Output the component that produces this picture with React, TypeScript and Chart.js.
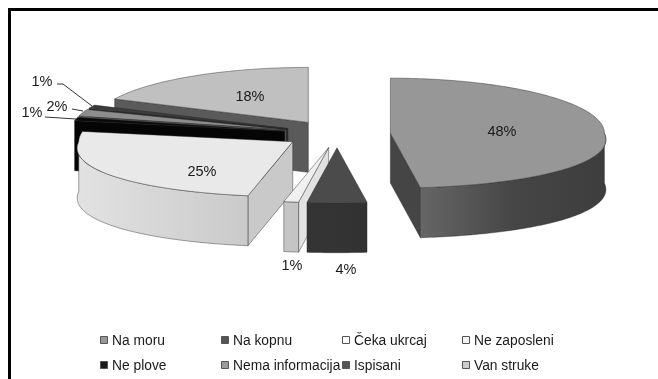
import React, { useEffect, useRef } from "react";
import { Chart, registerables } from "chart.js";

Chart.register(...registerables);

// Share of each status, in percent.
const categories = ["Na moru", "Na kopnu", "Čeka ukrcaj", "Ne zaposleni", "Ne plove", "Nema informacija", "Ispisani", "Van struke"];
const shares = [48, 4, 1, 25, 1, 2, 1, 18];

// Face colours per slice.
const topColors = ["#979797", "#4b4b4b", "#f0f0f0", "#e9e9e9", "#0a0a0a", "#8e8e8e", "#3c3c3c", "#c0c0c0"];
const cutColors = ["#454545", "#333333", "#e2e2e2", "#c9c9c9", "#050505", "#606060", "#2a2a2a", "#5a5a5a"];
const wallStops = [
  ["#666666", "#464646", "#3d3d3d"],
  ["#343434", "#333333", "#323232"],
  ["#c6c6c6", "#c4c4c4", "#c2c2c2"],
  ["#e2e2e2", "#d6d6d6", "#cacaca"],
  ["#050505", "#050505", "#050505"],
  ["#606060", "#606060", "#606060"],
  ["#2a2a2a", "#2a2a2a", "#2a2a2a"],
  ["#5a5a5a", "#5a5a5a", "#5a5a5a"],
];
const swatchColors = ["#999999", "#555555", "#ffffff", "#f4f4f4", "#1a1a1a", "#9a9a9a", "#555555", "#cccccc"];

// Projection of the tilted pie, relative to the library's outer radius.
const X_SCALE = 2;
const Y_SCALE = 0.514;
const DEPTH = 0.467;
const EXPLODE = 0.25;
const PERSPECTIVE = 0.12;
const PAINT_ORDER = [7, 6, 5, 4, 3, 2, 1, 0];

// Where each percentage sits, with a leader line for the narrow back slices.
const labelPlacement: { x: number; y: number; leader?: number[][] }[] = [
  { x: 502, y: 132 },
  { x: 346, y: 270 },
  { x: 292, y: 266 },
  { x: 202, y: 172 },
  { x: 32, y: 113, leader: [[45, 117], [76, 119]] },
  { x: 57, y: 107, leader: [[72, 109], [83, 111]] },
  { x: 42, y: 82, leader: [[57, 84], [63, 84], [92, 106]] },
  { x: 250, y: 97 },
];

const LEGEND_COLUMNS = [101, 222, 343, 463];
const LEGEND_ROWS = [341, 366];

const pie3d = {
  id: "pie3d",
  beforeDatasetDraw(chart: any) {
    const ctx: CanvasRenderingContext2D = chart.ctx;
    const arcs = chart.getDatasetMeta(0).data;

    const geometry = (arc: any) => {
      const R = arc.outerRadius;
      const rx = R * X_SCALE;
      const ry = R * Y_SCALE;
      const mid = (arc.startAngle + arc.endAngle) / 2;
      const ox = arc.x + Math.cos(mid) * EXPLODE * rx;
      const oy = arc.y + Math.sin(mid) * EXPLODE * ry;
      // The near half of the rim flares out slightly; the far half does not.
      const at = (a: number, r = 1) => ({
        x: ox + Math.cos(a) * r * rx * (1 + PERSPECTIVE * Math.max(0, Math.sin(a)) * r),
        y: oy + Math.sin(a) * r * ry,
      });
      return { ox, oy, at, depth: R * DEPTH };
    };

    const trace = (points: { x: number; y: number }[], fill: any) => {
      ctx.beginPath();
      points.forEach((p, i) => (i ? ctx.lineTo(p.x, p.y) : ctx.moveTo(p.x, p.y)));
      ctx.closePath();
      ctx.fillStyle = fill;
      ctx.fill();
      ctx.strokeStyle = "rgba(40,40,40,0.55)";
      ctx.lineWidth = 0.8;
      ctx.lineJoin = "round";
      ctx.stroke();
    };

    const sample = (at: (a: number) => { x: number; y: number }, from: number, to: number) => {
      const steps = Math.max(2, Math.ceil(Math.abs(to - from) / 0.02));
      const out = [];
      for (let i = 0; i <= steps; i++) out.push(at(from + ((to - from) * i) / steps));
      return out;
    };

    PAINT_ORDER.forEach((i) => {
      const arc = arcs[i];
      const { ox, oy, at, depth } = geometry(arc);
      const { startAngle: a0, endAngle: a1 } = arc;
      const apex = { x: ox, y: oy };
      const down = (p: { x: number; y: number }) => ({ x: p.x, y: p.y + depth });

      // Radial cut faces, only where they turn towards the viewer.
      const cut = (a: number) => {
        const p = at(a);
        trace([apex, p, down(p), down(apex)], cutColors[i]);
      };
      if (Math.cos(a0) < 0) cut(a0);
      if (Math.cos(a1) > 0) cut(a1);

      // Curved outer wall on the front half of the rim.
      const from = Math.max(a0, 0);
      const to = Math.min(a1, Math.PI);
      if (to > from) {
        const rim = sample(at, from, to);
        const xs = rim.map((p) => p.x);
        const left = Math.min(...xs);
        const right = Math.max(...xs);
        const grad = ctx.createLinearGradient(left, 0, Math.max(right, left + 1), 0);
        const stops = wallStops[i];
        grad.addColorStop(0, stops[0]);
        grad.addColorStop(0.5, stops[1]);
        grad.addColorStop(1, stops[2]);
        trace([...rim, ...rim.slice().reverse().map(down)], grad);
      }

      // Top surface.
      trace([apex, ...sample(at, a0, a1)], topColors[i]);
    });

    // Percentage labels and their leader lines.
    ctx.font = "14.5px 'Liberation Sans'";
    ctx.textAlign = "center";
    ctx.textBaseline = "middle";
    labelPlacement.forEach((placed, i) => {
      ctx.fillStyle = "#1a1a1a";
      ctx.fillText(`${chart.data.datasets[0].data[i]}%`, placed.x, placed.y);
      if (placed.leader) {
        ctx.beginPath();
        placed.leader.forEach(([x, y], k) => (k ? ctx.lineTo(x, y) : ctx.moveTo(x, y)));
        ctx.strokeStyle = "#333";
        ctx.lineWidth = 1;
        ctx.stroke();
      }
    });

    // Four-column legend under the pie.
    ctx.textAlign = "left";
    ctx.font = "13.8px 'Liberation Sans'";
    chart.data.labels.forEach((label: string, i: number) => {
      const x = LEGEND_COLUMNS[i % 4];
      const y = LEGEND_ROWS[Math.floor(i / 4)];
      ctx.fillStyle = swatchColors[i];
      ctx.strokeStyle = "#555";
      ctx.lineWidth = 1;
      ctx.fillRect(x - 0.5, y - 4.5, 7, 7);
      ctx.strokeRect(x - 0.5, y - 4.5, 7, 7);
      ctx.fillStyle = "#1a1a1a";
      ctx.fillText(label, x + 11, y);
    });

    return false;
  },
};

export default function App() {
  const canvasRef = useRef<HTMLCanvasElement>(null);

  useEffect(() => {
    const chart = new Chart(canvasRef.current!, {
      type: "pie",
      data: {
        labels: categories,
        datasets: [{ data: shares, backgroundColor: topColors, borderWidth: 0 }],
      },
      options: {
        animation: false,
        responsive: false,
        layout: { padding: { top: 27, bottom: 138, left: 16, right: 0 } },
        plugins: { legend: { display: false }, tooltip: { enabled: false } },
      },
      plugins: [pie3d],
    } as any);
    return () => chart.destroy();
  }, []);

  return (
    <div style={{ position: "fixed", left: 0, top: 0, width: 658, height: 379, overflow: "hidden", background: "#fff" }}>
      <canvas ref={canvasRef} width={658} height={379} style={{ display: "block" }} />
      <div
        style={{
          position: "absolute",
          left: 8,
          top: 8,
          right: 0,
          bottom: 0,
          borderTop: "3px solid #000",
          borderLeft: "3px solid #000",
          pointerEvents: "none",
        }}
      />
    </div>
  );
}
